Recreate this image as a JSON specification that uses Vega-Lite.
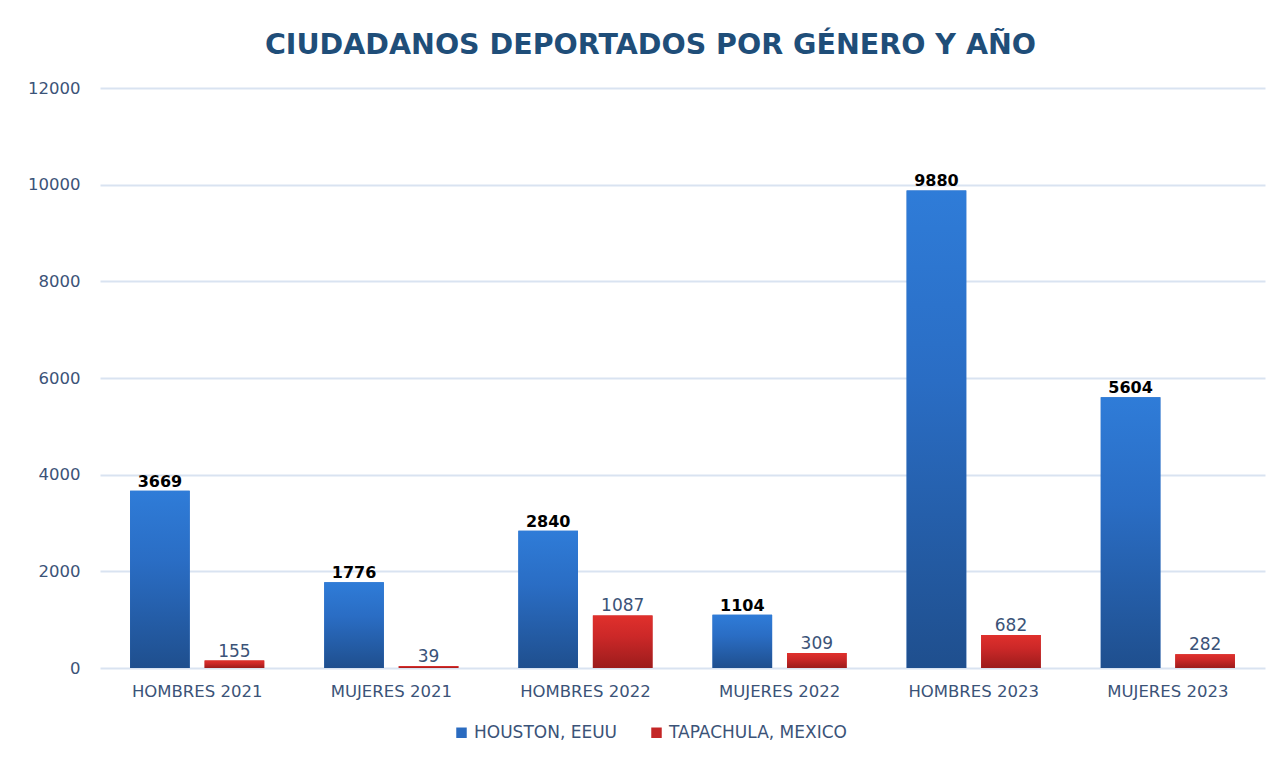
{
  "$schema": "https://vega.github.io/schema/vega-lite/v6.json",
  "width": 1165,
  "height": 580,
  "autosize": {"type": "none"},
  "padding": {"left": 100, "top": 88, "right": 16, "bottom": 91},
  "background": "white",
  "config": {"view": {"stroke": null}},
  "title": {
    "text": "CIUDADANOS DEPORTADOS POR GÉNERO Y AÑO",
    "font": "DejaVu Sans",
    "fontSize": 28.5,
    "fontWeight": "bold",
    "color": "#1F4E79",
    "anchor": "middle",
    "dx": -32,
    "offset": 21
  },
  "data": {
    "values": [
      {"cat": "HOMBRES 2021", "serie": "HOUSTON, EEUU", "valor": 3669},
      {"cat": "HOMBRES 2021", "serie": "TAPACHULA, MEXICO", "valor": 155},
      {"cat": "MUJERES 2021", "serie": "HOUSTON, EEUU", "valor": 1776},
      {"cat": "MUJERES 2021", "serie": "TAPACHULA, MEXICO", "valor": 39},
      {"cat": "HOMBRES 2022", "serie": "HOUSTON, EEUU", "valor": 2840},
      {"cat": "HOMBRES 2022", "serie": "TAPACHULA, MEXICO", "valor": 1087},
      {"cat": "MUJERES 2022", "serie": "HOUSTON, EEUU", "valor": 1104},
      {"cat": "MUJERES 2022", "serie": "TAPACHULA, MEXICO", "valor": 309},
      {"cat": "HOMBRES 2023", "serie": "HOUSTON, EEUU", "valor": 9880},
      {"cat": "HOMBRES 2023", "serie": "TAPACHULA, MEXICO", "valor": 682},
      {"cat": "MUJERES 2023", "serie": "HOUSTON, EEUU", "valor": 5604},
      {"cat": "MUJERES 2023", "serie": "TAPACHULA, MEXICO", "valor": 282}
    ]
  },
  "encoding": {
    "x": {
      "field": "cat",
      "type": "nominal",
      "sort": ["HOMBRES 2021", "MUJERES 2021", "HOMBRES 2022", "MUJERES 2022", "HOMBRES 2023", "MUJERES 2023"],
      "scale": {"paddingInner": 0.309, "paddingOuter": 0.155},
      "axis": {
        "title": null,
        "labelAngle": 0,
        "labelFont": "DejaVu Sans",
        "labelFontSize": 16.5,
        "labelColor": "#3B5378",
        "labelPadding": 15,
        "ticks": false,
        "domain": false,
        "grid": false
      }
    },
    "xOffset": {
      "field": "serie",
      "type": "nominal",
      "scale": {"domain": ["HOUSTON, EEUU", "TAPACHULA, MEXICO"], "paddingInner": 0.2, "paddingOuter": 0}
    },
    "y": {
      "field": "valor",
      "type": "quantitative",
      "scale": {"domain": [0, 12000], "nice": false},
      "axis": {
        "title": null,
        "values": [0, 2000, 4000, 6000, 8000, 10000, 12000],
        "format": "d",
        "labelFont": "DejaVu Sans",
        "labelFontSize": 16.5,
        "labelColor": "#3B5378",
        "labelPadding": 20,
        "ticks": false,
        "domain": false,
        "gridColor": "#D9E3F1",
        "gridWidth": 2
      }
    }
  },
  "layer": [
    {
      "mark": {"type": "bar"},
      "encoding": {
        "color": {
          "field": "serie",
          "type": "nominal",
          "scale": {"domain": ["HOUSTON, EEUU", "TAPACHULA, MEXICO"], "range": ["#2A6BC0", "#C42626"]},
          "legend": {
            "orient": "none",
            "legendX": 353,
            "legendY": 636,
            "direction": "horizontal",
            "title": null,
            "symbolType": "square",
            "symbolSize": 110,
            "symbolStrokeWidth": 0,
            "labelFont": "DejaVu Sans",
            "labelFontSize": 17,
            "labelColor": "#3B5378",
            "labelLimit": 400,
            "columnPadding": 30
          }
        }
      }
    },
    {
      "transform": [{"filter": "datum.serie === 'HOUSTON, EEUU'"}],
      "mark": {
        "type": "bar",
        "color": {
          "gradient": "linear",
          "x1": 0, "y1": 0, "x2": 0, "y2": 1,
          "stops": [
            {"offset": 0, "color": "#2F7CD8"},
            {"offset": 0.4, "color": "#2A6DC4"},
            {"offset": 1, "color": "#1F4F8E"}
          ]
        }
      }
    },
    {
      "transform": [{"filter": "datum.serie === 'TAPACHULA, MEXICO'"}],
      "mark": {
        "type": "bar",
        "color": {
          "gradient": "linear",
          "x1": 0, "y1": 0, "x2": 0, "y2": 1,
          "stops": [
            {"offset": 0, "color": "#E0302C"},
            {"offset": 0.4, "color": "#CC2828"},
            {"offset": 1, "color": "#9C1C1C"}
          ]
        }
      }
    },
    {
      "transform": [{"filter": "datum.serie === 'HOUSTON, EEUU'"}],
      "mark": {"type": "text", "baseline": "alphabetic", "dy": -4, "font": "DejaVu Sans", "fontSize": 16, "fontWeight": "bold", "color": "#000000"},
      "encoding": {"text": {"field": "valor", "type": "quantitative", "format": "d"}}
    },
    {
      "transform": [{"filter": "datum.serie === 'TAPACHULA, MEXICO'"}],
      "mark": {"type": "text", "baseline": "alphabetic", "dy": -4, "font": "DejaVu Sans", "fontSize": 17, "color": "#3B5378"},
      "encoding": {"text": {"field": "valor", "type": "quantitative", "format": "d"}}
    }
  ]
}
